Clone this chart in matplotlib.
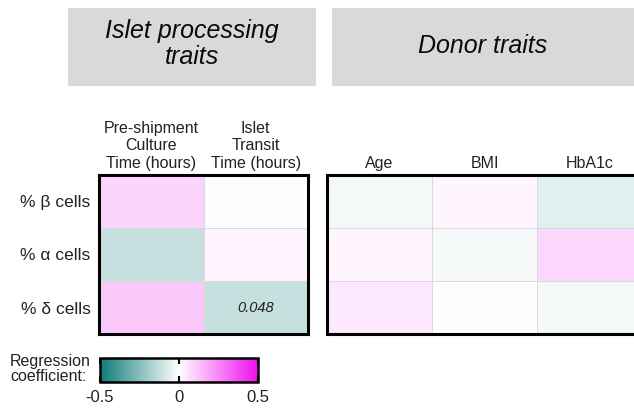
import matplotlib
matplotlib.use("Agg")
import matplotlib.pyplot as plt
import numpy as np
from matplotlib.colors import LinearSegmentedColormap, Normalize
from matplotlib.patches import Rectangle
from matplotlib.cm import ScalarMappable

plt.rcParams['font.family'] = ['Liberation Sans', 'DejaVu Sans']

rows = ["% β cells", "% α cells", "% δ cells"]
proc_cols = ["Pre-shipment\nCulture\nTime (hours)", "Islet\nTransit\nTime (hours)"]
donor_cols = ["Age", "BMI", "HbA1c"]
proc_vals = np.array([[0.086, 0.005],
                      [-0.12, 0.027],
                      [0.115, -0.12]])
donor_vals = np.array([[-0.025, 0.023, -0.06],
                       [0.021, -0.02, 0.08],
                       [0.05, 0.0, -0.025]])
annot = {(2, 1): "0.048"}
cbar_ticks = [-0.5, 0, 0.5]

W, H = 634, 412
fig = plt.figure(figsize=(W / 100, H / 100), dpi=100)

def box(x0, y0, x1, y1):
    return [x0 / W, 1 - y1 / H, (x1 - x0) / W, (y1 - y0) / H]

cmap = LinearSegmentedColormap.from_list("tw", ["#0e7c78", "#ffffff", "#ee11ee"])
norm = Normalize(-0.5, 0.5)

# header boxes
for (x0, x1, txt, ty) in [(68, 316, "Islet processing\ntraits", 44), (332, 640, "Donor traits", 46)]:
    fig.patches.append(Rectangle((x0 / W, 1 - 86 / H), (x1 - x0) / W, (86 - 8) / H,
                                 transform=fig.transFigure, facecolor="#d9d9d9",
                                 edgecolor="none", zorder=0))
    fig.text(((x0 + min(x1, 634)) / 2) / W, 1 - ty / H, txt, ha="center", va="center",
             fontsize=18, style="italic", color="#0a0a0a", linespacing=1.08)

def heat(ax, vals, cols, show_rows):
    ax.pcolormesh(vals, cmap=cmap, norm=norm, edgecolors="#dadada", linewidth=0.5)
    ax.set_xlim(0, vals.shape[1])
    ax.set_ylim(vals.shape[0], 0)
    ax.xaxis.tick_top()
    ax.set_xticks(np.arange(len(cols)) + 0.5)
    ax.set_xticklabels(cols, fontsize=11.5, color="#222222", linespacing=1.2)
    ax.tick_params(length=0, pad=3)
    ax.set_yticks(np.arange(len(rows)) + 0.5)
    if show_rows:
        ax.set_yticklabels(rows, fontsize=12.5, color="#222222")
        ax.tick_params(axis="y", pad=6)
    else:
        ax.set_yticklabels([])
    for s in ax.spines.values():
        s.set_linewidth(2.2)
        s.set_color("black")

ax1 = fig.add_axes(box(99, 175, 308, 334))
heat(ax1, proc_vals, proc_cols, True)
for (r, c), t in annot.items():
    ax1.text(c + 0.5, r + 0.5, t, ha="center", va="center", fontsize=10.5,
             style="italic", color="#222222")

ax2 = fig.add_axes(box(327, 175, 642, 334))
heat(ax2, donor_vals, donor_cols, False)

# colorbar
cax = fig.add_axes(box(100, 358, 258, 382))
cb = fig.colorbar(ScalarMappable(norm=norm, cmap=cmap), cax=cax, orientation="horizontal")
cb.set_ticks(cbar_ticks)
cb.set_ticklabels(["-0.5", "0", "0.5"])
cax.tick_params(axis="x", direction="in", length=4, width=1.5, top=True, bottom=True,
                labelsize=12, labelcolor="#222222", pad=6)
cb.outline.set_linewidth(1.8)
fig.text(10 / W, 1 - 369 / H, "Regression\ncoefficient:", ha="left", va="center",
         fontsize=11.5, color="#222222", linespacing=1.0)

fig.savefig("out.png", dpi=100)
